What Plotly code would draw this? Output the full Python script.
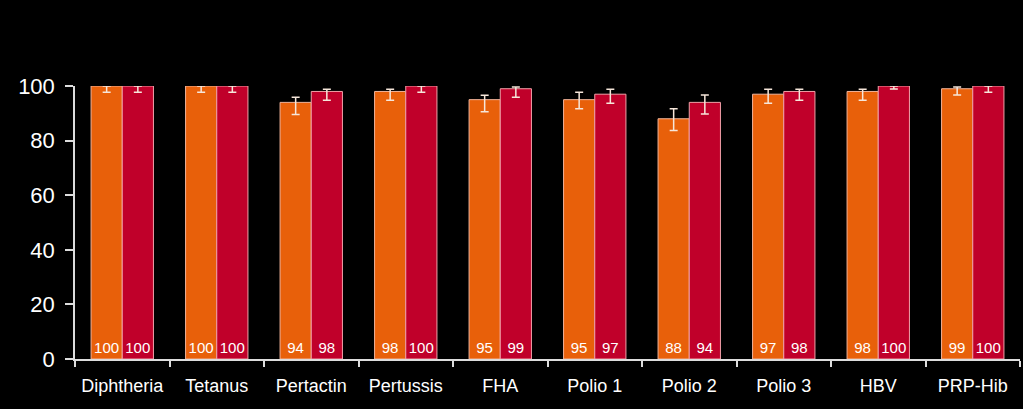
import plotly.graph_objects as go

categories = ["Diphtheria", "Tetanus", "Pertactin", "Pertussis", "FHA",
              "Polio 1", "Polio 2", "Polio 3", "HBV", "PRP-Hib"]
series_a = [100, 100, 94, 98, 95, 95, 88, 97, 98, 99]
series_b = [100, 100, 98, 100, 99, 97, 94, 98, 100, 100]
a_upper = [99.7, 99.7, 95.9, 98.8, 96.6, 97.7, 91.7, 98.8, 98.8, 99.6]
a_lower = [97.7, 97.7, 89.6, 94.8, 90.6, 91.7, 83.7, 93.7, 94.8, 96.7]
b_upper = [99.7, 99.7, 98.8, 99.6, 99.6, 98.8, 96.7, 98.8, 99.6, 99.6]
b_lower = [97.7, 97.7, 94.8, 97.7, 95.9, 93.7, 89.7, 94.8, 98.9, 97.7]
labels_a = ["100", "100", "94", "98", "95", "95", "88", "97", "98", "99"]
labels_b = ["100", "100", "98", "100", "99", "97", "94", "98", "100", "100"]


def err(vals, up, lo):
    return dict(type="data", symmetric=False,
                array=[max(u - v, 0) for u, v in zip(up, vals)],
                arrayminus=[max(v - l, 0) for l, v in zip(lo, vals)],
                color="#F6E6DA", thickness=1.5, width=4)


fig = go.Figure()
fig.add_trace(go.Bar(x=categories, y=series_a, name="A",
                     marker=dict(color="#E8600A", line=dict(color="#F2B49A", width=1)),
                     error_y=err(series_a, a_upper, a_lower),
                     text=labels_a, textposition="inside", insidetextanchor="start",
                     textangle=0,
                     textfont=dict(color="white", size=16, family="Liberation Sans, Arial")))
fig.add_trace(go.Bar(x=categories, y=series_b, name="B",
                     marker=dict(color="#C0002A", line=dict(color="#F2A0A8", width=1)),
                     error_y=err(series_b, b_upper, b_lower),
                     text=labels_b, textposition="inside", insidetextanchor="start",
                     textangle=0,
                     textfont=dict(color="white", size=16, family="Liberation Sans, Arial")))

fig.update_layout(
    width=1023, height=409,
    paper_bgcolor="black", plot_bgcolor="black",
    margin=dict(l=75, r=3, t=86, b=50, autoexpand=False),
    barmode="group", bargap=0.34, bargroupgap=0,
    showlegend=False,
    font=dict(family="Liberation Sans, Arial", color="white"),
    uniformtext=dict(minsize=8, mode="show"),
)
fig.update_xaxes(showline=True, linecolor="#DDDDDD", linewidth=1.5,
                 ticks="outside", tickson="boundaries", ticklen=6, tickcolor="#DDDDDD",
                 tickwidth=1.5, showgrid=False, zeroline=False, tickangle=0,
                 automargin=False,
                 tickfont=dict(size=18, color="white"), ticklabelstandoff=10)
fig.update_yaxes(range=[0, 100], showline=True, linecolor="#DDDDDD", linewidth=1.5,
                 ticks="outside", ticklen=8, tickcolor="#DDDDDD", tickwidth=1.5,
                 tickvals=[0, 20, 40, 60, 80, 100], showgrid=False, zeroline=False,
                 automargin=False,
                 tickfont=dict(size=22, color="white"), ticklabelstandoff=6)

fig.write_html("out.html", config={"displayModeBar": False},
               post_script="document.body.style.margin='0';document.body.style.background='black';")
